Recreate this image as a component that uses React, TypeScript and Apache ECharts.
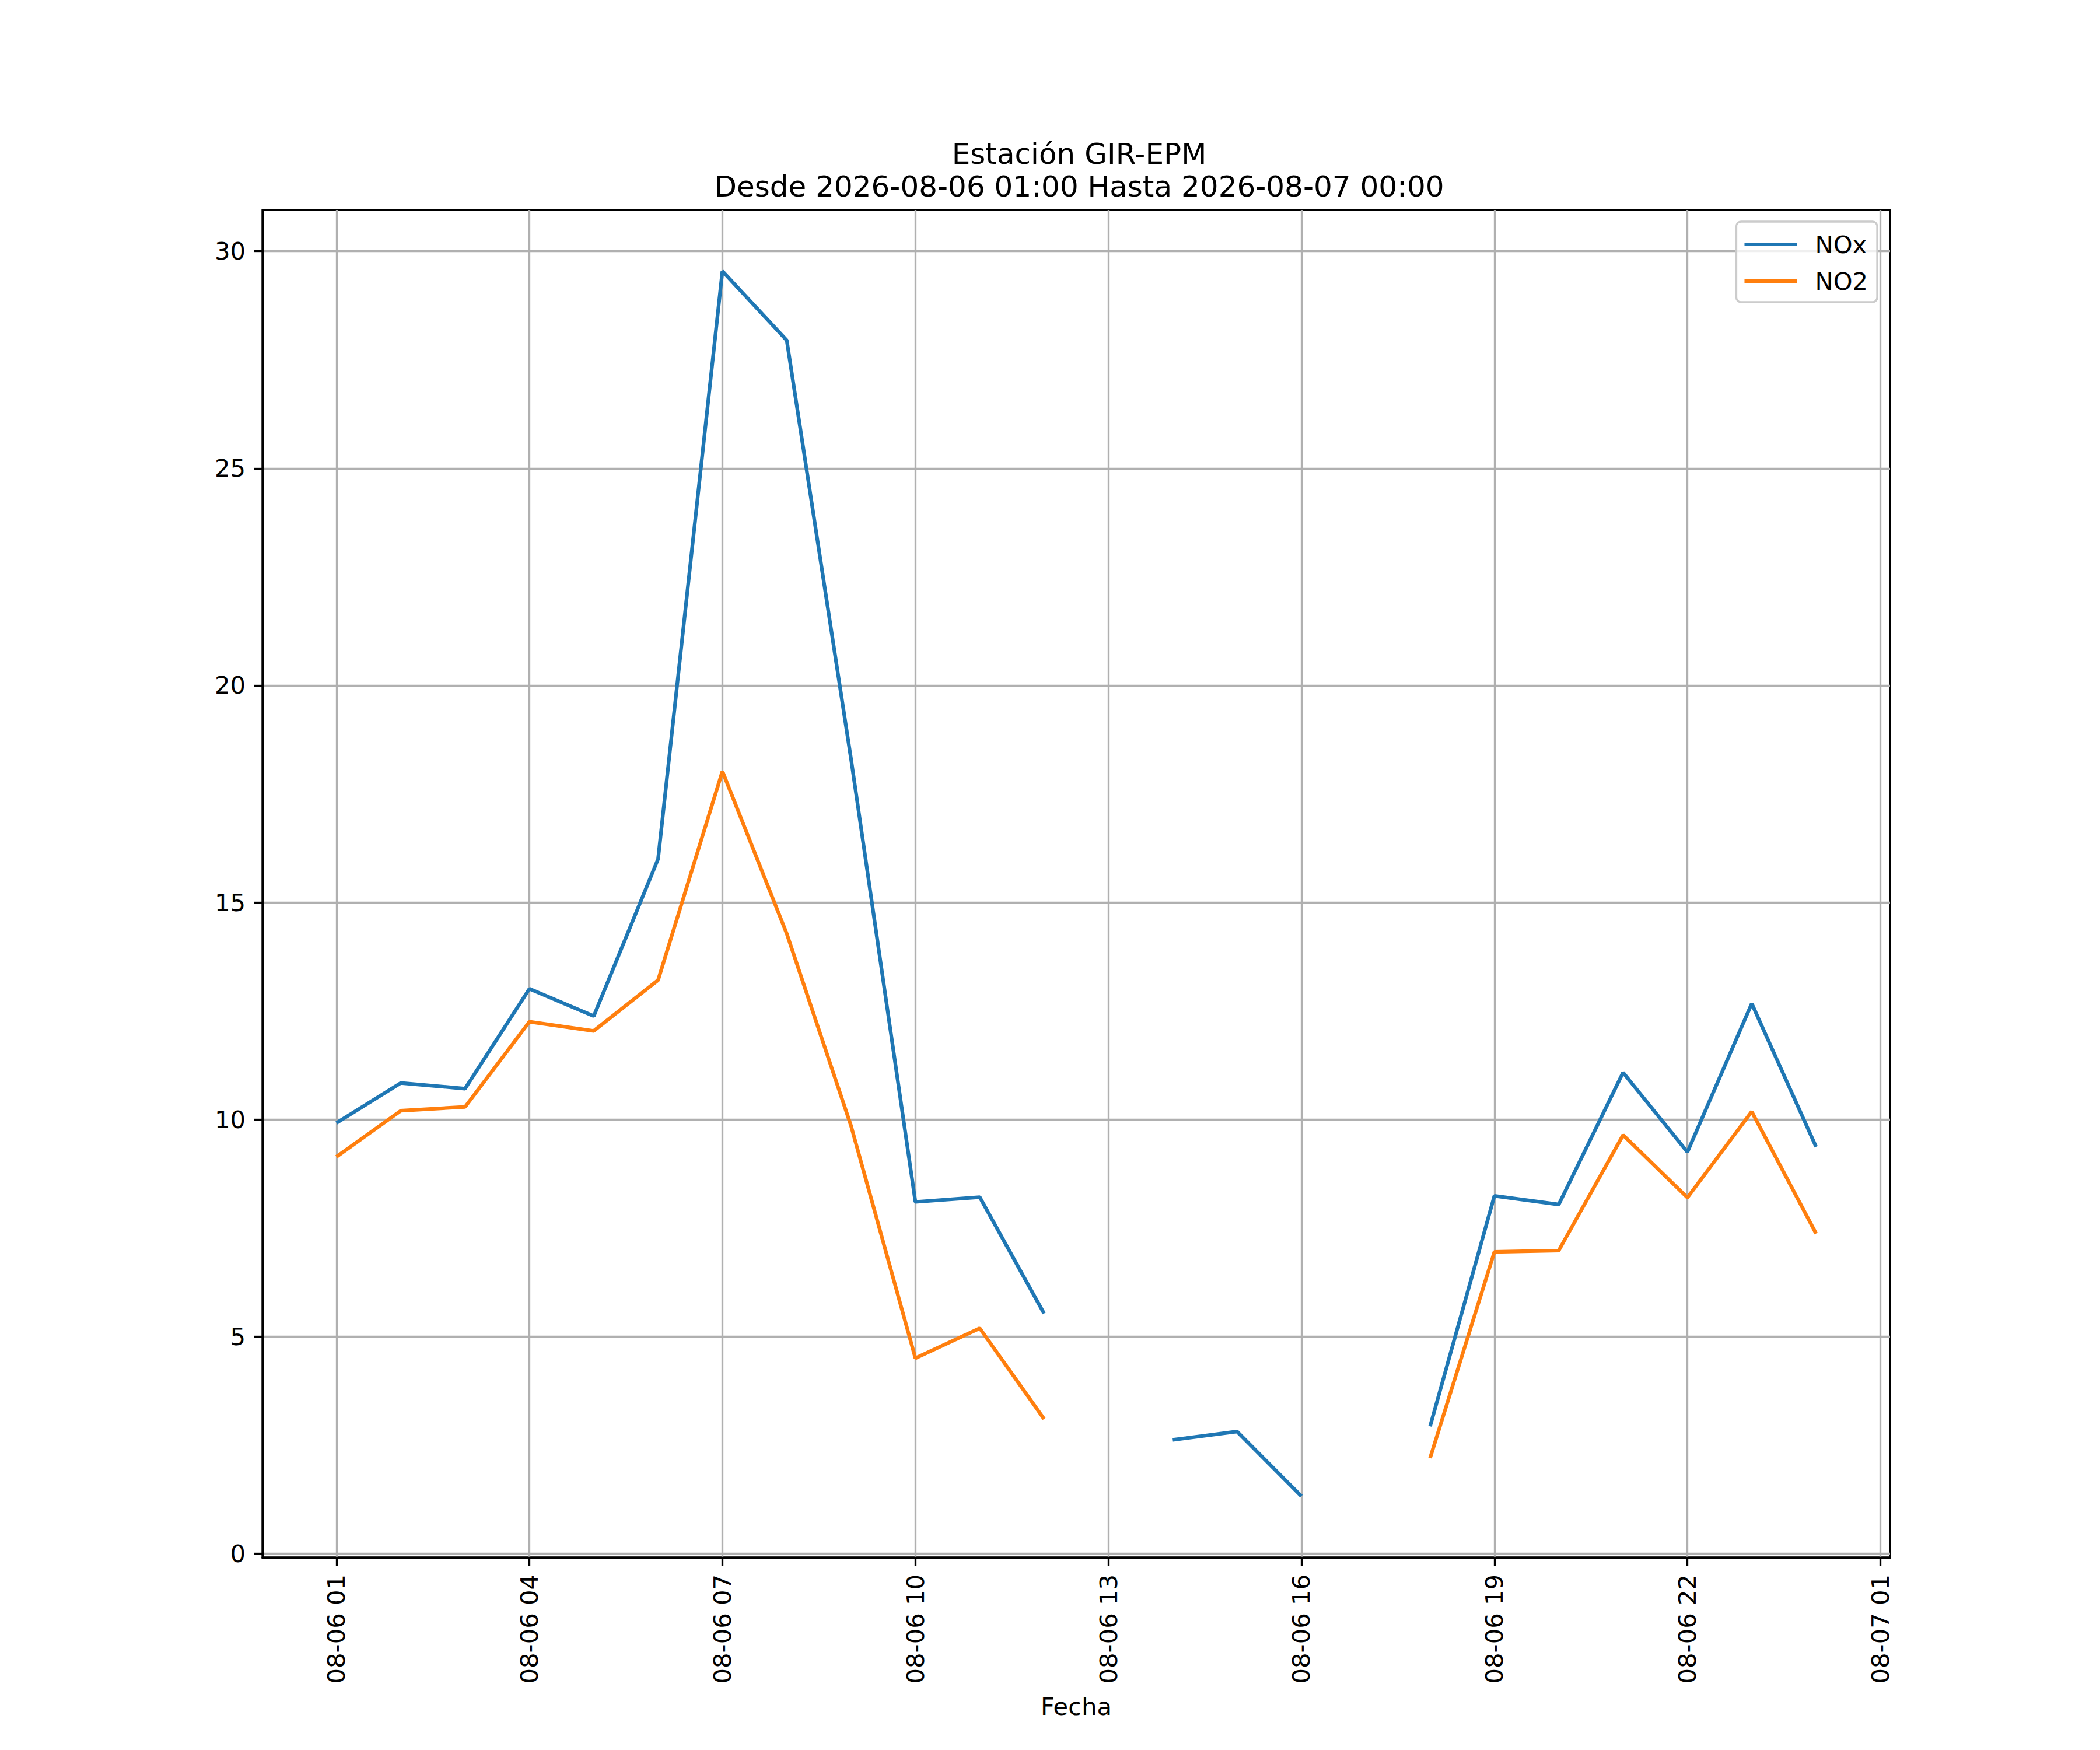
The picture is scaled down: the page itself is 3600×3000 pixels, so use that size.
import React, { useEffect, useRef } from "react";
import * as echarts from "echarts";

// Hours of 2026-08-06 from 01:00 to 2026-08-07 00:00
const hours = ["01", "02", "03", "04", "05", "06", "07", "08", "09", "10", "11", "12",
  "13", "14", "15", "16", "17", "18", "19", "20", "21", "22", "23", "00"];

const noxValues: (number | null)[] = [9.92, 10.84, 10.71, 13.01, 12.38, 16.0, 29.54, 27.95, 18.3, 8.1, 8.21, 5.53,
  null, 2.62, 2.81, 1.32, null, 2.93, 8.24, 8.04, 11.08, 9.25, 12.67, 9.37];

const no2Values: (number | null)[] = [9.14, 10.2, 10.29, 12.25, 12.04, 13.21, 18.02, 14.28, 9.85, 4.5, 5.19, 3.1,
  null, null, null, null, null, 2.2, 6.95, 6.98, 9.64, 8.2, 10.18, 7.37];

const xTickLabels = ["08-06 01", "08-06 04", "08-06 07", "08-06 10", "08-06 13",
  "08-06 16", "08-06 19", "08-06 22", "08-07 01"];
const xTickValues = xTickLabels.map((_, i) => i * 3);
const yTickValues = [0, 5, 10, 15, 20, 25, 30];

const FONT = "DejaVu Sans";

export default function App() {
  const ref = useRef<HTMLDivElement>(null);
  useEffect(() => {
    document.body.style.margin = "0";
    if (!ref.current) return;
    const chart = echarts.init(ref.current, null, { renderer: "svg" });
    const toData = (vals: (number | null)[]) =>
      hours.map((_, i) => [i, vals[i] === null ? "-" : vals[i]]);
    chart.setOption({
      animation: false,
      backgroundColor: "#ffffff",
      title: {
        text: "Estación GIR-EPM\nDesde 2026-08-06 01:00 Hasta 2026-08-07 00:00",
        left: 1845,
        top: 231,
        textAlign: "center",
        textStyle: { fontSize: 50, lineHeight: 56, fontWeight: "normal", color: "#000", fontFamily: FONT },
      },
      legend: {
        orient: "vertical",
        right: 382,
        top: 380,
        padding: [15, 16, 12, 14],
        itemWidth: 90,
        itemHeight: 6,
        itemGap: 15,
        icon: "rect",
        backgroundColor: "rgba(255,255,255,0.8)",
        borderColor: "#cccccc",
        borderWidth: 3.33,
        borderRadius: 8,
        textStyle: { fontSize: 41.7, lineHeight: 48, color: "#000", fontFamily: FONT, padding: [0, 0, 0, 26] },
        data: ["NOx", "NO2"],
      },
      grid: {
        left: 450,
        top: 360,
        width: 2790,
        height: 2310,
        show: true,
        borderColor: "#000",
        borderWidth: 3.33,
        backgroundColor: "transparent",
      },
      xAxis: {
        type: "value",
        min: -1.15,
        max: 24.15,
        name: "Fecha",
        nameLocation: "middle",
        nameGap: 234,
        nameTextStyle: { fontSize: 41.7, color: "#000", fontFamily: FONT },
        axisLine: { show: true, onZero: false, lineStyle: { color: "#000", width: 3.33 } },
        axisTick: { show: true, length: 14.6, customValues: xTickValues, lineStyle: { color: "#000", width: 3.33 } },
        axisLabel: {
          customValues: xTickValues,
          rotate: 90,
          margin: 29,
          fontSize: 41.7,
          color: "#000",
          fontFamily: FONT,
          formatter: (v: number) => xTickLabels[Math.round(v / 3)] ?? "",
        },
        splitLine: { show: true, lineStyle: { color: "#b0b0b0", width: 3.33 } },
      },
      yAxis: {
        type: "value",
        min: -0.09,
        max: 30.95,
        axisLine: { show: true, onZero: false, lineStyle: { color: "#000", width: 3.33 } },
        axisTick: { show: true, length: 14.6, customValues: yTickValues, lineStyle: { color: "#000", width: 3.33 } },
        axisLabel: {
          customValues: yTickValues,
          margin: 29,
          fontSize: 41.7,
          color: "#000",
          fontFamily: FONT,
        },
        splitLine: { show: true, lineStyle: { color: "#b0b0b0", width: 3.33 } },
      },
      series: [
        {
          name: "NOx",
          type: "line",
          data: toData(noxValues),
          showSymbol: false,
          connectNulls: false,
          color: "#1f77b4",
          lineStyle: { width: 6.25, color: "#1f77b4" },
          itemStyle: { color: "#1f77b4" },
        },
        {
          name: "NO2",
          type: "line",
          data: toData(no2Values),
          showSymbol: false,
          connectNulls: false,
          color: "#ff7f0e",
          lineStyle: { width: 6.25, color: "#ff7f0e" },
          itemStyle: { color: "#ff7f0e" },
        },
      ],
    });
    return () => chart.dispose();
  }, []);
  return <div ref={ref} style={{ width: 3600, height: 3000 }} />;
}
